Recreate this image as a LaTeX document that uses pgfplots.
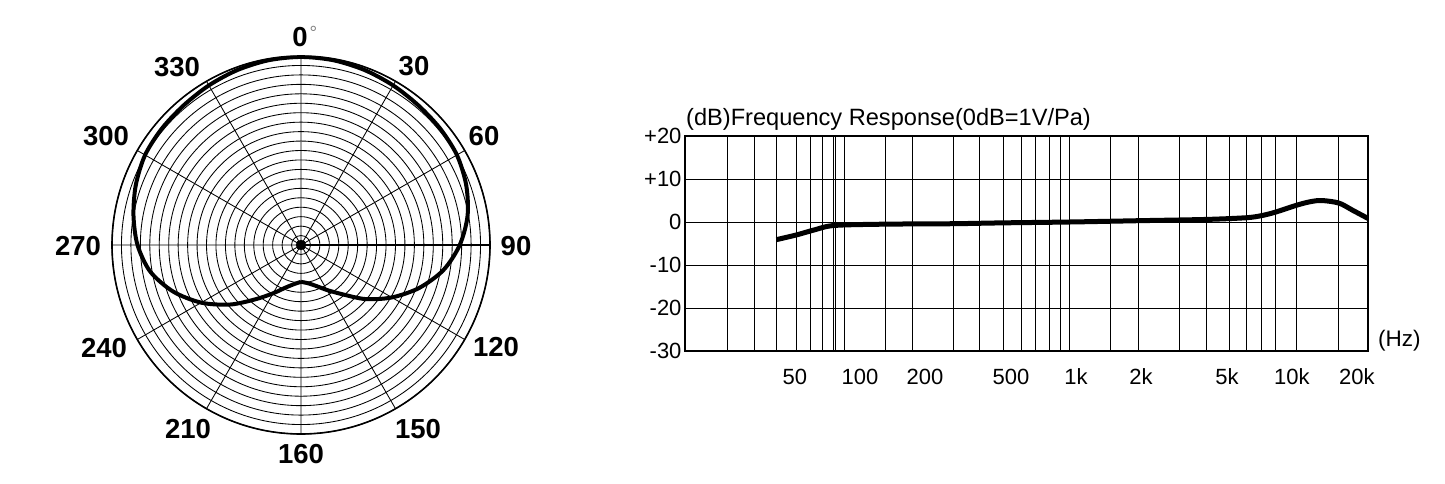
\documentclass[border=0pt]{standalone}
\usepackage{pgfplots}
\usepackage{pgfplotstable}
\pgfplotsset{compat=1.18}
\usepgfplotslibrary{polar}
\usepackage{fontspec}
\setmainfont{Liberation Sans}

% polar pattern: compass angle (deg, 0 = front, clockwise), radius in rings (20 = outer)
\pgfplotstableread{
a r
-180 3.9
-170 4.2
-160 4.8
-150 5.9
-140 7.5
-130 9.8
-120 12.2
-110 14.4
-100 16.2
-90 17.3
-80 18.0
-70 18.6
-60 19.05
-50 19.2
-40 19.3
-30 19.5
-20 19.7
-10 19.85
0 19.9
10 19.85
20 19.7
30 19.5
40 19.3
50 19.2
60 19.05
70 18.6
80 17.9
90 16.8
100 15.3
110 13.3
120 11.1
130 8.9
140 6.8
150 5.5
160 4.6
170 4.1
180 3.9
}\polardata

% frequency response: Hz, dB
\pgfplotstableread{
f db
41.1 -4.1
50.9 -3.0
61.9 -1.8
76.3 -0.8
132 -0.5
269 -0.4
459 -0.2
938 0.0
1936 0.3
4025 0.6
6166 1.0
7257 1.5
8397 2.3
10510 3.9
12110 4.7
13710 5.0
16500 4.4
19150 2.7
22550 0.8
}\freqdata

\begin{document}
\begin{tikzpicture}
\path[use as bounding box] (0,0) rectangle (1445pt,483pt);

\begin{polaraxis}[
  scale only axis, width=378pt, height=378pt,
  anchor=origin, at={(301pt,238pt)},
  xtick={0,30,...,330}, xticklabels={},
  ymin=0, ymax=20, ytick={1,...,20}, yticklabels={},
  grid=major, major grid style={black, line width=0.85pt},
  axis line style={black, line width=1.6pt},
  major tick length=0pt,
]
\addplot[black, line width=4pt, smooth, line join=round] table[x expr=90-\thisrow{a}, y=r] {\polardata};
\addplot[black, mark=*, mark size=5pt, only marks] coordinates {(0,0)};
\end{polaraxis}

\begin{axis}[
  scale only axis, width=683pt, height=215pt,
  anchor=south west, at={(685pt,132pt)},
  xmode=log, xmin=15.5, xmax=22500, ymin=-30, ymax=20,
  xtick={50,100,200,500,1000,2000,5000,10000,20000},
  xticklabels={50,100,200,500,1k,2k,5k,10k,20k},
  ytick={-30,-20,-10,0,10,20}, yticklabels={-30,-20,-10,0,+10,+20},
  ymajorgrids, xmajorgrids=false, xminorticks=false,
  extra x ticks={24.3,32.6,41.1,50.9,59.1,67.2,75.3,77.4,84.5,132,175.3,270.2,359.3,460.6,560.8,653,752,852,938,1447,1943,3007,4026,5123,6168,7238,8403,10513,16500},
  extra x tick labels={},
  extra x tick style={xmajorgrids=true},
  major tick length=0pt,
  grid style={black, line width=1pt},
  axis line style={black, line width=1.3pt},
  tick label style={font=\fontsize{22}{22}\selectfont},
  xticklabel style={anchor=base, yshift=-33pt},
]
\addplot[black, line width=5pt, smooth] table[x=f, y=db] {\freqdata};
\end{axis}

\node[anchor=base west, font=\fontsize{23.6}{23.6}\selectfont, inner sep=0pt] at (686pt,358pt) {(dB)Frequency Response(0dB=1V/Pa)};
\node[anchor=base west, font=\fontsize{22.5}{22.5}\selectfont, inner sep=0pt] at (1378pt,136.3pt) {(Hz)};

\begin{scope}[every node/.style={font=\bfseries\fontsize{27.5}{27.5}\selectfont, inner sep=0pt, anchor=center}]
\node at (300pt,445.5pt) {0};
\node at (414pt,417pt) {30};
\node at (484pt,347pt) {60};
\node at (516pt,237pt) {90};
\node at (496pt,136pt) {120};
\node at (418pt,54pt) {150};
\node at (301pt,29pt) {160};
\node at (188pt,54pt) {210};
\node at (104pt,135pt) {240};
\node at (78pt,237pt) {270};
\node at (106pt,347pt) {300};
\node at (177pt,415.5pt) {330};
\end{scope}
\node[anchor=north west, inner sep=0pt, text=gray, font=\fontsize{19}{19}\selectfont] at (309.5pt,456.5pt) {°};
\end{tikzpicture}
\end{document}
